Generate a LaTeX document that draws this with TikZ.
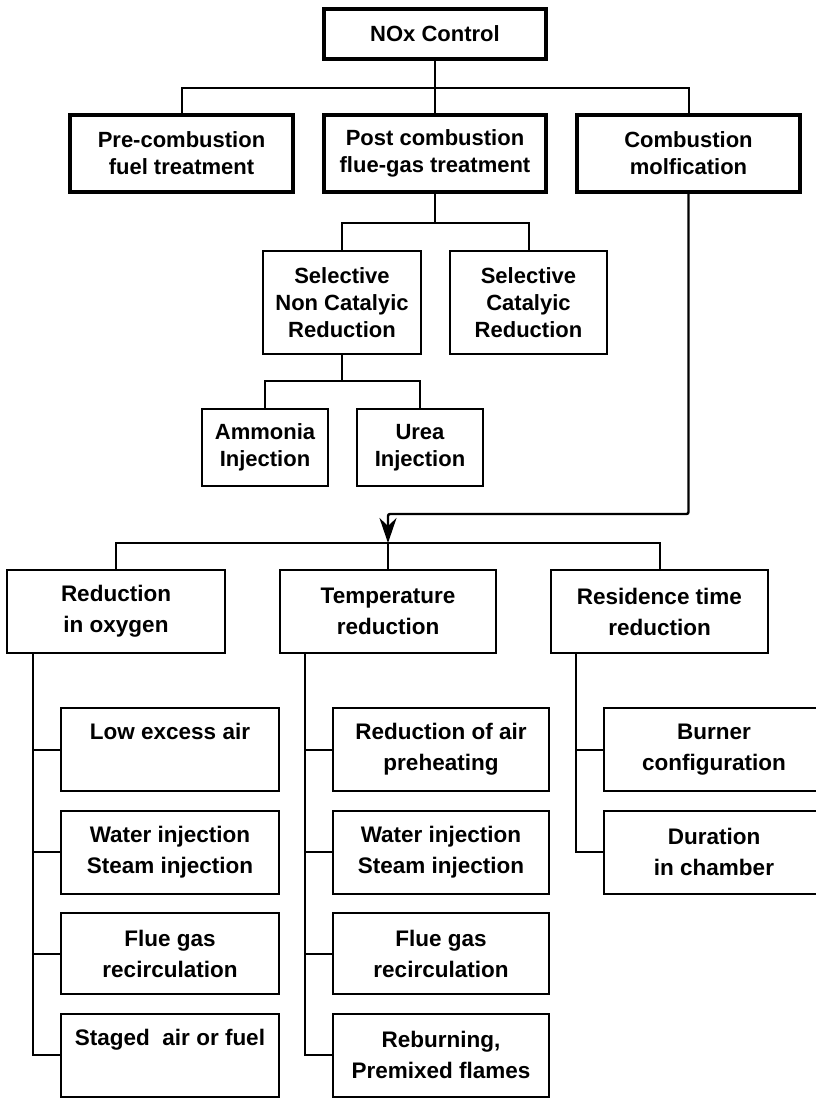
\documentclass[tikz,border=0pt]{standalone}
\usepackage{fontspec}
\setmainfont{Liberation Sans}
\usetikzlibrary{arrows.meta,calc}
\tikzset{
  bigbox/.style={draw, line width=3.2pt, inner sep=0pt, align=center,
    font=\bfseries\fontsize{22}{27}\selectfont},
  midbox/.style={draw, line width=2pt, inner sep=0pt, align=center,
    font=\bfseries\fontsize{22}{27}\selectfont},
  lowbox/.style={draw, line width=2pt, inner sep=0pt, align=center,
    font=\bfseries\fontsize{22.5}{31}\selectfont},
  conn/.style={line width=2pt},
}
\begin{document}
\begin{tikzpicture}[x=1pt,y=-1pt]
\useasboundingbox (0,0) rectangle (816,1098);
\clip (0,0) rectangle (816,1098);
% level 1 and 2
\node[bigbox, minimum width=222pt, minimum height=50pt] (nox) at (435,34) {NOx Control};
\node[bigbox, minimum width=223pt, minimum height=77pt] (pre) at (181.5,153.5) {Pre-combustion\\fuel treatment};
\node[bigbox, minimum width=222pt, minimum height=77pt] (post) at (435,153.5) {Post combustion\\flue-gas treatment};
\node[bigbox, minimum width=223pt, minimum height=77pt] (comb) at (688.5,153.5) {Combustion\\molfication};
\coordinate (h1) at (435,88);
\draw[conn] (nox.south) -- (post.north);
\draw[conn] (pre.north) |- (h1) -| (comb.north);
% post-combustion branch
\node[midbox, minimum width=158pt, minimum height=103pt] (sncr) at (342,302.5) {Selective\\Non Catalyic\\Reduction};
\node[midbox, minimum width=157pt, minimum height=103pt] (scr) at (528.5,302.5) {Selective\\Catalyic\\Reduction};
\coordinate (h2) at (435,223);
\draw[conn] (post.south) -- (h2);
\draw[conn] (sncr.north) |- (h2) -| (scr.north);
\node[midbox, minimum width=126pt, minimum height=77pt] (amm) at (265,447.5) {Ammonia\\Injection};
\node[midbox, minimum width=126pt, minimum height=77pt] (urea) at (420,447.5) {Urea\\Injection};
\coordinate (h2b) at (342,381);
\draw[conn] (sncr.south) -- (h2b);
\draw[conn] (amm.north) |- (h2b) -| (urea.north);
% level 3
\node[lowbox, minimum width=218pt, minimum height=83pt] (red) at (116,611.5) {Reduction\\in oxygen};
\node[lowbox, minimum width=216pt, minimum height=83pt] (temp) at (388,611.5) {Temperature\\reduction};
\node[lowbox, minimum width=217pt, minimum height=83pt] (res) at (659.5,611.5) {Residence time\\reduction};
\coordinate (ac) at (388,514);
\coordinate (h3) at (388,543);
\draw[conn, line width=2.4pt, rounded corners=2pt, -{Stealth[length=25pt 0,width=17pt 0,inset=8pt 0]}] (comb.south) |- (ac) -- (h3);
\draw[conn] (red.north) |- (h3) -| (res.north);
\draw[conn] (h3) -- (temp.north);
% level 4 left
\node[lowbox, minimum width=218pt, minimum height=83pt] (a1) at (170,749.5) {Low excess air\\\vphantom{p}};
\node[lowbox, minimum width=218pt, minimum height=83pt] (a2) at (170,852) {Water injection\\Steam injection};
\node[lowbox, minimum width=218pt, minimum height=81pt] (a3) at (170,953.5) {Flue gas\\recirculation};
\node[lowbox, minimum width=218pt, minimum height=83pt] (a4) at (170,1055) {Staged\ \ air or fuel\\\vphantom{p}};
\coordinate (ta) at ($(red.south west)+(27,0)$);
\draw[conn] (ta) |- (a4.west);
\draw[conn] (a1.west) -- (a1.west -| ta);
\draw[conn] (a2.west) -- (a2.west -| ta);
\draw[conn] (a3.west) -- (a3.west -| ta);
% level 4 middle
\node[lowbox, minimum width=216pt, minimum height=83pt] (b1) at (441,749.5) {Reduction of air\\preheating};
\node[lowbox, minimum width=216pt, minimum height=83pt] (b2) at (441,852) {Water injection\\Steam injection};
\node[lowbox, minimum width=216pt, minimum height=81pt] (b3) at (441,953.5) {Flue gas\\recirculation};
\node[lowbox, minimum width=216pt, minimum height=83pt] (b4) at (441,1055) {Reburning,\\Premixed flames};
\coordinate (tb) at ($(temp.south west)+(26,0)$);
\draw[conn] (tb) |- (b4.west);
\draw[conn] (b1.west) -- (b1.west -| tb);
\draw[conn] (b2.west) -- (b2.west -| tb);
\draw[conn] (b3.west) -- (b3.west -| tb);
% level 4 right
\node[lowbox, minimum width=220pt, minimum height=83pt] (c1) at (714,749.5) {Burner\\configuration};
\node[lowbox, minimum width=220pt, minimum height=83pt] (c2) at (714,852) {Duration\\in chamber};
\coordinate (tc) at ($(res.south west)+(26,0)$);
\draw[conn] (tc) |- (c2.west);
\draw[conn] (c1.west) -- (c1.west -| tc);
\end{tikzpicture}
\end{document}
